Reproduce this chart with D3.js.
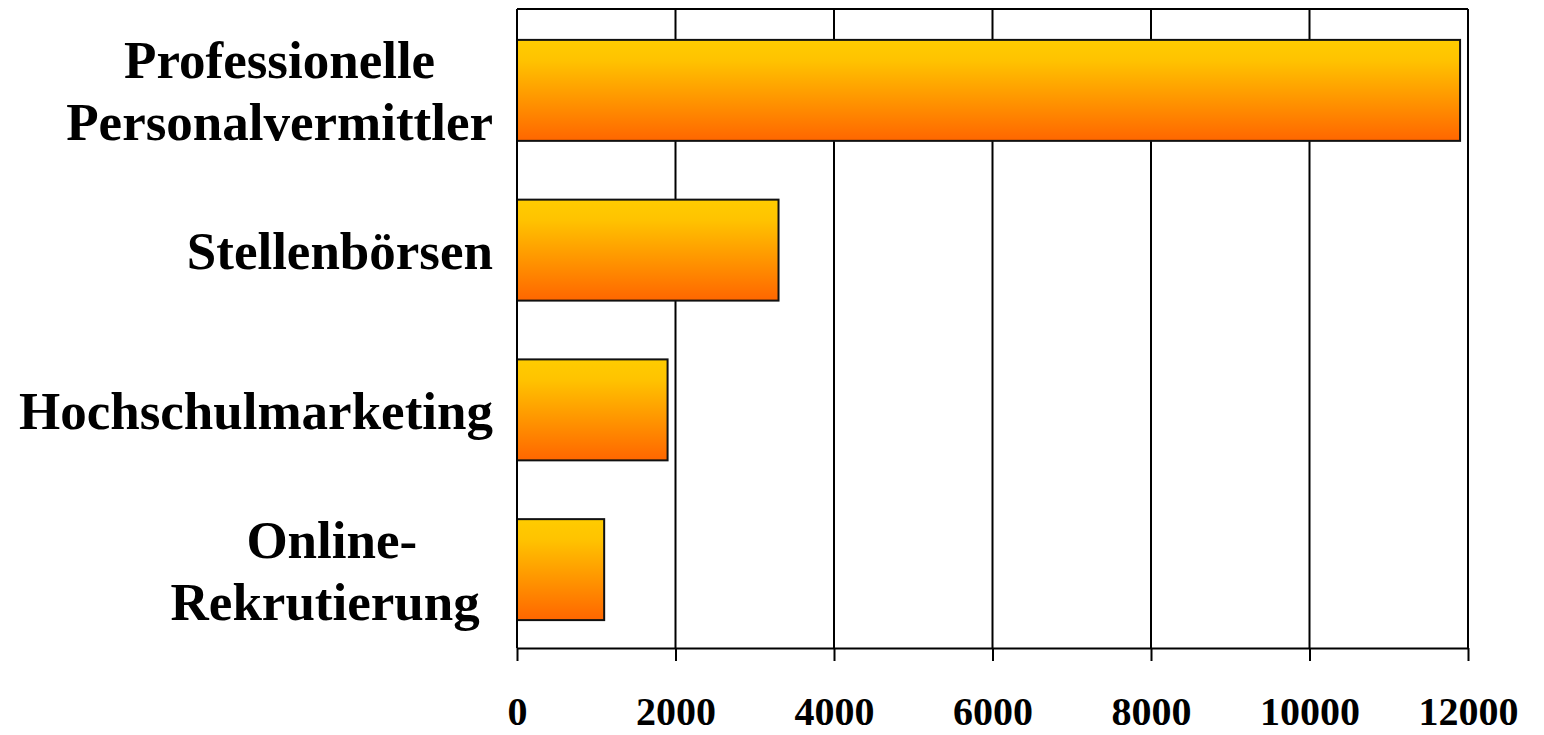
<!DOCTYPE html>
<html>
<head>
<meta charset="utf-8">
<script src="https://cdn.jsdelivr.net/npm/d3@7"></script>
<style>
  html, body { margin: 0; padding: 0; background: #ffffff; }
  svg { display: block; }
</style>
</head>
<body>
<svg id="chart" width="1544" height="735"></svg>
<script>
// Category labels (line-broken as shown on the axis) and their values
const categories = [
  ["Professionelle", "Personalvermittler"],
  ["Stellenbörsen"],
  ["Hochschulmarketing"],
  ["Online-", "Rekrutierung\u00a0"]
];
const values = [11900, 3300, 1900, 1100];
const tickValues = [0, 2000, 4000, 6000, 8000, 10000, 12000];

const svg = d3.select("#chart");
const plot = { left: 517, right: 1468, top: 9, bottom: 648 };

const x = d3.scaleLinear().domain([0, 12000]).range([plot.left, plot.right]);
const y = d3.scaleBand()
  .domain(d3.range(categories.length))
  .range([plot.top + 1.5, plot.bottom + 1.5])
  .paddingInner(0.368)
  .paddingOuter(0.184);

// Vertical orange gradient used by every bar
const defs = svg.append("defs");
const grad = defs.append("linearGradient")
  .attr("id", "barFill").attr("x1", 0).attr("y1", 0).attr("x2", 0).attr("y2", 1);
grad.append("stop").attr("offset", "0%").attr("stop-color", "#ffcc00");
grad.append("stop").attr("offset", "20%").attr("stop-color", "#ffc300");
grad.append("stop").attr("offset", "100%").attr("stop-color", "#ff6600");

// Vertical gridlines
svg.append("g")
  .selectAll("line")
  .data(tickValues)
  .join("line")
  .attr("x1", d => x(d)).attr("x2", d => x(d))
  .attr("y1", plot.top).attr("y2", plot.bottom)
  .attr("stroke", "#000").attr("stroke-width", 2);

// Top frame line
svg.append("line")
  .attr("x1", plot.left).attr("x2", plot.right)
  .attr("y1", plot.top).attr("y2", plot.top)
  .attr("stroke", "#000").attr("stroke-width", 2);

// Bars
svg.append("g")
  .selectAll("rect")
  .data(values)
  .join("rect")
  .attr("x", x(0))
  .attr("y", (d, i) => y(i))
  .attr("width", d => x(d) - x(0))
  .attr("height", y.bandwidth())
  .attr("fill", "url(#barFill)")
  .attr("stroke", "#111")
  .attr("stroke-width", 2);

// Bottom value axis
const xAxis = d3.axisBottom(x)
  .tickValues(tickValues)
  .tickFormat(d3.format("d"))
  .tickSizeInner(13)
  .tickSizeOuter(0)
  .tickPadding(36);
const gx = svg.append("g")
  .attr("transform", `translate(0,${plot.bottom})`)
  .call(xAxis);
gx.select(".domain").attr("stroke", "#000").attr("stroke-width", 2);
gx.selectAll(".tick line").attr("stroke", "#000").attr("stroke-width", 2);
gx.selectAll(".tick text")
  .attr("fill", "#000")
  .style("font-family", "'Liberation Serif', 'Times New Roman', serif")
  .style("font-weight", "bold")
  .style("font-size", "40px");

// Left axis line
svg.append("line")
  .attr("x1", plot.left).attr("x2", plot.left)
  .attr("y1", plot.top).attr("y2", plot.bottom)
  .attr("stroke", "#000").attr("stroke-width", 2);

// Category labels: lines centred within a block whose right edge sits next to the axis
const labelRight = 493;
const lineGap = 62;
const labels = svg.append("g")
  .style("font-family", "'Liberation Serif', 'Times New Roman', serif")
  .style("font-weight", "bold")
  .style("font-size", "53px")
  .attr("fill", "#000");

categories.forEach((lines, i) => {
  const cy = y(i) + y.bandwidth() / 2;
  const g = labels.append("g");
  const texts = g.selectAll("text")
    .data(lines)
    .join("text")
    .attr("text-anchor", "middle")
    .attr("y", (d, k) => cy + 19 + (k - (lines.length - 1) / 2) * lineGap)
    .text(d => d);
  const widest = d3.max(texts.nodes(), n => n.getComputedTextLength());
  texts.attr("x", labelRight - widest / 2);
});
</script>
</body>
</html>
